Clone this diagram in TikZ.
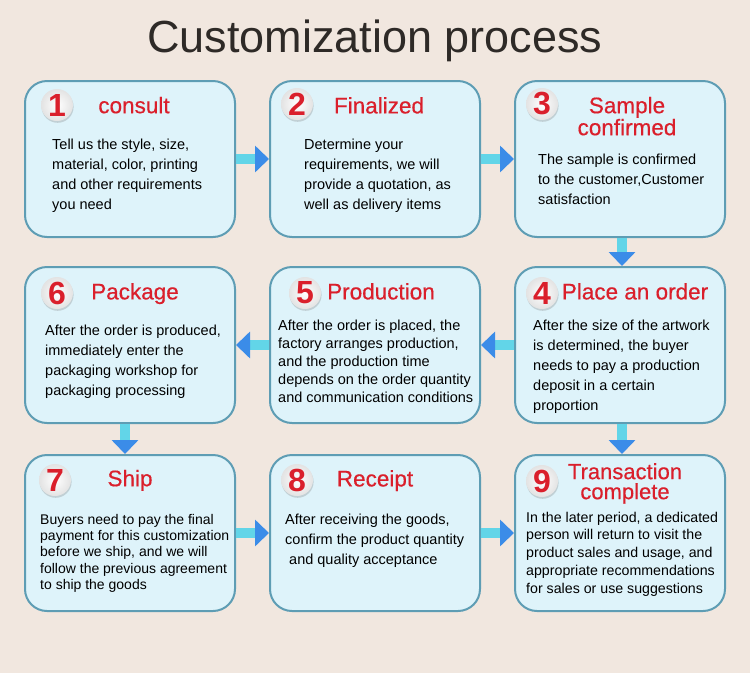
\documentclass[tikz,border=0pt]{standalone}
\usepackage{fontspec}
\setmainfont{Liberation Sans}
\newfontfamily\headfont{Liberation Sans}[BoldFont=Liberation Sans, BoldFeatures={FakeBold=0.5}]
\usetikzlibrary{arrows.meta,shadows}
\definecolor{bgcol}{HTML}{F1E7DF}
\definecolor{boxfill}{HTML}{DEF3FA}
\definecolor{boxline}{HTML}{5E9DB4}
\definecolor{headred}{HTML}{DA1F2B}
\definecolor{shaftcyan}{HTML}{62D5E8}
\definecolor{tipblue}{HTML}{3B8CE8}
\definecolor{titlegray}{HTML}{2E2A27}

\begin{document}
\begin{tikzpicture}[x=1pt, y=-1pt,
  box/.style={draw=boxline, fill=boxfill, line width=2pt, rounded corners=22pt, minimum width=210pt, minimum height=156pt},
  num/.style={circle, minimum size=32pt, inner sep=0pt, inner color=white, outer color=gray!22, drop shadow={shadow xshift=0.6pt, shadow yshift=-1.8pt, opacity=0.3}, text=headred, font=\fontsize{32}{32}\selectfont\bfseries},
  head/.style={anchor=north, inner sep=0pt, align=center, text=headred, font=\headfont\bfseries\fontsize{22.5}{22}\selectfont},
  body/.style={anchor=north west, inner sep=0pt, align=left, font=\fontsize{14.5}{20}\selectfont},
  arr/.style={draw=shaftcyan, line width=10pt, -{Triangle[width=26pt, length=14pt, color=tipblue]}}]
  \useasboundingbox[fill=bgcol] (0,0) rectangle (750,673);
  \node [anchor=base, inner sep=0pt, text=titlegray, font=\fontsize{45}{45}\selectfont] (title) at (375,52) {Customization process};
  \node [box] (b1) at (130,159) {};
  \node [box] (b2) at (375,159) {};
  \node [box] (b3) at (620,159) {};
  \node [box] (b4) at (620,345) {};
  \node [box] (b5) at (375,345) {};
  \node [box] (b6) at (130,345) {};
  \node [box] (b7) at (130,533) {};
  \node [box] (b8) at (375,533) {};
  \node [box] (b9) at (620,533) {};
  \node [num] (n1) at (57,105) {1};
  \node [num] (n2) at (297,104) {2};
  \node [num] (n3) at (542,104) {3};
  \node [num] (n4) at (542,293) {4};
  \node [num] (n5) at (305,293) {5};
  \node [num] (n6) at (57,293) {6};
  \node [num] (n7) at (55,480) {7};
  \node [num] (n8) at (297,480) {8};
  \node [num] (n9) at (542,481) {9};
  \node [head] (h1) at (134,96.7) {consult};
  \node [head] (h2) at (379,96.9) {Finalized};
  \node [head] (h3) at (627,96.7) {Sample\\confirmed};
  \node [head] (h4) at (635,282.9) {Place an order};
  \node [head] (h5) at (381,282.9) {Production};
  \node [head] (h6) at (135,282.9) {Package};
  \node [head] (h7) at (130,469.7) {Ship};
  \node [head] (h8) at (375,469.9) {Receipt};
  \node [head, font=\headfont\bfseries\fontsize{22}{20}\selectfont] (h9) at (625,463) {Transaction\\complete};
  \node [body] (t1) at (52,138.5) {Tell us the style, size,\\material, color, printing\\and other requirements\\you need};
  \node [body] (t2) at (304,138.5) {Determine your\\requirements, we will\\provide a quotation, as\\well as delivery items};
  \node [body] (t3) at (538,153.5) {The sample is confirmed\\to the customer,Customer\\satisfaction};
  \node [body] (t4) at (533,319.5) {After the size of the artwork\\is determined, the buyer\\needs to pay a production\\deposit in a certain\\proportion};
  \node [body, font=\fontsize{14.5}{18}\selectfont] (t5) at (278,319.5) {After the order is placed, the\\factory arranges production,\\and the production time\\depends on the order quantity\\and communication conditions};
  \node [body] (t6) at (45,324.5) {After the order is produced,\\immediately enter the\\packaging workshop for\\packaging processing};
  \node [body, font=\fontsize{14}{16.3}\selectfont] (t7) at (40,514) {Buyers need to pay the final\\payment for this customization\\before we ship, and we will\\follow the previous agreement\\to ship the goods};
  \node [body] (t8) at (285,513.5) {After receiving the goods,\\confirm the product quantity\\\hspace{4pt}and quality acceptance};
  \node [body, font=\fontsize{14.2}{17.8}\selectfont] (t9) at (526,511.7) {In the later period, a dedicated\\person will return to visit the\\product sales and usage, and\\appropriate recommendations\\for sales or use suggestions};
  \draw [arr] (b1.east) -- (b2.west);
  \draw [arr] (b2.east) -- (b3.west);
  \draw [arr] ([xshift=2pt]b3.south) -- ([xshift=2pt]b4.north);
  \draw [arr] (b4.west) -- (b5.east);
  \draw [arr] (b5.west) -- (b6.east);
  \draw [arr] ([xshift=-5pt]b6.south) -- ([xshift=-5pt]b7.north);
  \draw [arr] ([xshift=2pt]b4.south) -- ([xshift=2pt]b9.north);
  \draw [arr] (b7.east) -- (b8.west);
  \draw [arr] (b8.east) -- (b9.west);
\end{tikzpicture}
\end{document}
